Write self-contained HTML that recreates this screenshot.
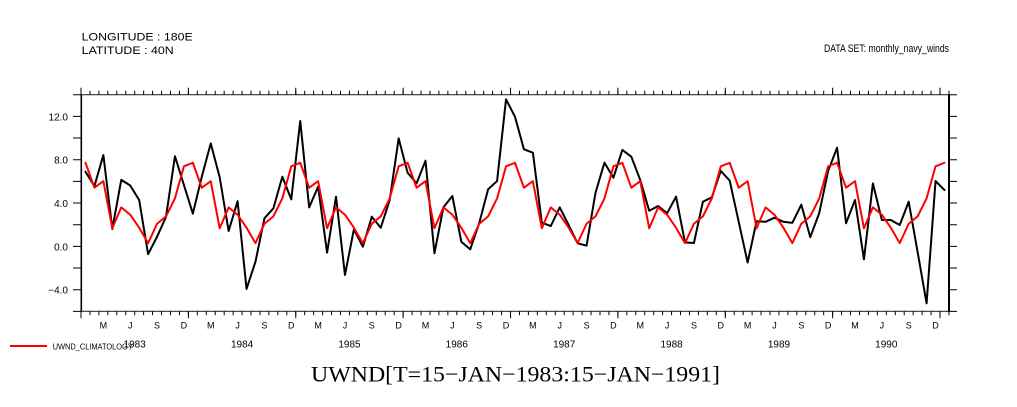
<!DOCTYPE html>
<html>
<head>
<meta charset="utf-8">
<style>
html,body{margin:0;padding:0;background:#fff;}
svg{display:block;}
text{font-family:"Liberation Sans",sans-serif;fill:#000;}
.serif{font-family:"Liberation Serif",serif;}
</style>
</head>
<body>
<svg width="1017" height="407" viewBox="0 0 1017 407" xmlns="http://www.w3.org/2000/svg">
<rect width="1017" height="407" fill="#fff"/>

<!-- header text -->
<text x="81.7" y="40.7" font-size="11" textLength="111" lengthAdjust="spacingAndGlyphs">LONGITUDE : 180E</text>
<text x="81.7" y="54" font-size="11" textLength="92" lengthAdjust="spacingAndGlyphs">LATITUDE : 40N</text>
<text x="824" y="52" font-size="11" textLength="125" lengthAdjust="spacingAndGlyphs">DATA SET: monthly_navy_winds</text>

<!-- axes -->
<g stroke="#000" fill="none">
  <!-- top axis -->
  <line x1="81" y1="94.7" x2="949" y2="94.7" stroke-width="1.2" stroke="#333"/>
  <line x1="80.5" y1="92.7" x2="950" y2="92.7" stroke-width="4" stroke-dasharray="1 7.948"/>
  <line x1="80.5" y1="91.2" x2="942" y2="91.2" stroke-width="7" stroke-dasharray="1 106.38"/>
  <!-- bottom axis -->
  <line x1="81" y1="311.3" x2="949" y2="311.3" stroke-width="1.2" stroke="#333"/>
  <line x1="80.5" y1="313.3" x2="950" y2="313.3" stroke-width="4" stroke-dasharray="1 7.948"/>
  <line x1="80.5" y1="314.8" x2="942" y2="314.8" stroke-width="7" stroke-dasharray="1 106.38"/>
  <!-- left axis -->
  <line x1="81.3" y1="94.7" x2="81.3" y2="311.3" stroke-width="1.6"/>
  <line x1="77" y1="94.2" x2="77" y2="312" stroke-width="8" stroke-dasharray="1 20.667"/>
  <!-- right axis -->
  <line x1="949" y1="94" x2="949" y2="312" stroke-width="2"/>
  <line x1="953" y1="94.2" x2="953" y2="312" stroke-width="8" stroke-dasharray="1 20.667"/>
</g>

<!-- y labels -->
<g font-size="10" text-anchor="end">
  <text x="68" y="120.3">12.0</text>
  <text x="68" y="163.6">8.0</text>
  <text x="68" y="206.9">4.0</text>
  <text x="68" y="250.3">0.0</text>
  <text x="68" y="293.6">−4.0</text>
</g>

<!-- month labels -->
<g font-size="9" text-anchor="middle">
  <g transform="translate(81,0)"><text x="22.37" y="328.5">M</text><text x="49.21" y="328.5">J</text><text x="76.06" y="328.5">S</text><text x="102.9" y="328.5">D</text></g>
  <g transform="translate(188.38,0)"><text x="22.37" y="328.5">M</text><text x="49.21" y="328.5">J</text><text x="76.06" y="328.5">S</text><text x="102.9" y="328.5">D</text></g>
  <g transform="translate(295.76,0)"><text x="22.37" y="328.5">M</text><text x="49.21" y="328.5">J</text><text x="76.06" y="328.5">S</text><text x="102.9" y="328.5">D</text></g>
  <g transform="translate(403.14,0)"><text x="22.37" y="328.5">M</text><text x="49.21" y="328.5">J</text><text x="76.06" y="328.5">S</text><text x="102.9" y="328.5">D</text></g>
  <g transform="translate(510.52,0)"><text x="22.37" y="328.5">M</text><text x="49.21" y="328.5">J</text><text x="76.06" y="328.5">S</text><text x="102.9" y="328.5">D</text></g>
  <g transform="translate(617.9,0)"><text x="22.37" y="328.5">M</text><text x="49.21" y="328.5">J</text><text x="76.06" y="328.5">S</text><text x="102.9" y="328.5">D</text></g>
  <g transform="translate(725.28,0)"><text x="22.37" y="328.5">M</text><text x="49.21" y="328.5">J</text><text x="76.06" y="328.5">S</text><text x="102.9" y="328.5">D</text></g>
  <g transform="translate(832.66,0)"><text x="22.37" y="328.5">M</text><text x="49.21" y="328.5">J</text><text x="76.06" y="328.5">S</text><text x="102.9" y="328.5">D</text></g>
</g>

<!-- year labels -->
<g font-size="10" text-anchor="middle">
  <text x="134.7" y="347.5">1983</text>
  <text x="242.1" y="347.5">1984</text>
  <text x="349.5" y="347.5">1985</text>
  <text x="456.8" y="347.5">1986</text>
  <text x="564.2" y="347.5">1987</text>
  <text x="671.6" y="347.5">1988</text>
  <text x="779.0" y="347.5">1989</text>
  <text x="886.3" y="347.5">1990</text>
</g>

<!-- data series -->
<g transform="translate(85.474,246.7) scale(8.948,-10.833)" fill="none" stroke-linejoin="round" stroke-linecap="round">
  <polyline vector-effect="non-scaling-stroke" stroke="#000" stroke-width="2" points="0,6.92 1,5.6 2,8.46 3,1.63 4,6.17 5,5.65 6,4.31 7,-0.69 8,0.92 9,2.75 10,8.35 11,5.7 12,3.05 13,6.46 14,9.54 15,6.4 16,1.45 17,4.2 18,-3.9 19,-1.38 20,2.62 21,3.54 22,6.46 23,4.37 24,11.6 25,3.63 26,5.54 27,-0.55 28,4.62 29,-2.61 30,1.6 31,0 32,2.77 33,1.75 34,4.31 35,10 36,6.83 37,5.85 38,7.94 39,-0.61 40,3.63 41,4.68 42,0.46 43,-0.24 44,2.16 45,5.3 46,6.06 47,13.6 48,12 49,8.99 50,8.68 51,2.22 52,1.91 53,3.63 54,2 55,0.31 56,0.1 57,4.98 58,7.76 59,6.37 60,8.93 61,8.31 62,6.15 63,3.32 64,3.76 65,3.08 66,4.62 67,0.4 68,0.34 69,4.15 70,4.56 71,7 72,6.09 73,2.31 74,-1.46 75,2.35 76,2.3 77,2.68 78,2.3 79,2.2 80,3.88 81,0.88 82,3.1 83,7 84,9.14 85,2.16 86,4.31 87,-1.17 88,5.85 89,2.46 90,2.46 91,2 92,4.15 93,-0.5 94,-5.23 95,6.06 96,5.23"/>
  <polyline vector-effect="non-scaling-stroke" stroke="#f00" stroke-width="2" points="0,7.75 1,5.45 2,6.05 3,1.7 4,3.63 5,2.95 6,1.75 7,0.33 8,2.12 9,2.8 10,4.46 11,7.42 12,7.75 13,5.45 14,6.05 15,1.7 16,3.63 17,2.95 18,1.75 19,0.33 20,2.12 21,2.8 22,4.46 23,7.42 24,7.75 25,5.45 26,6.05 27,1.7 28,3.63 29,2.95 30,1.75 31,0.33 32,2.12 33,2.8 34,4.46 35,7.42 36,7.75 37,5.45 38,6.05 39,1.7 40,3.63 41,2.95 42,1.75 43,0.33 44,2.12 45,2.8 46,4.46 47,7.42 48,7.75 49,5.45 50,6.05 51,1.7 52,3.63 53,2.95 54,1.75 55,0.33 56,2.12 57,2.8 58,4.46 59,7.42 60,7.75 61,5.45 62,6.05 63,1.7 64,3.63 65,2.95 66,1.75 67,0.33 68,2.12 69,2.8 70,4.46 71,7.42 72,7.75 73,5.45 74,6.05 75,1.7 76,3.63 77,2.95 78,1.75 79,0.33 80,2.12 81,2.8 82,4.46 83,7.42 84,7.75 85,5.45 86,6.05 87,1.7 88,3.63 89,2.95 90,1.75 91,0.33 92,2.12 93,2.8 94,4.46 95,7.42 96,7.75"/>
</g>

<!-- legend -->
<line x1="10" y1="346" x2="47" y2="346" stroke="#f00" stroke-width="2"/>
<text x="52.7" y="349.3" font-size="8" textLength="80" lengthAdjust="spacingAndGlyphs">UWND_CLIMATOLOGY</text>

<!-- title -->
<text class="serif" x="311" y="381.7" font-size="22" textLength="409" lengthAdjust="spacingAndGlyphs">UWND[T=15−JAN−1983:15−JAN−1991]</text>
</svg>
</body>
</html>
